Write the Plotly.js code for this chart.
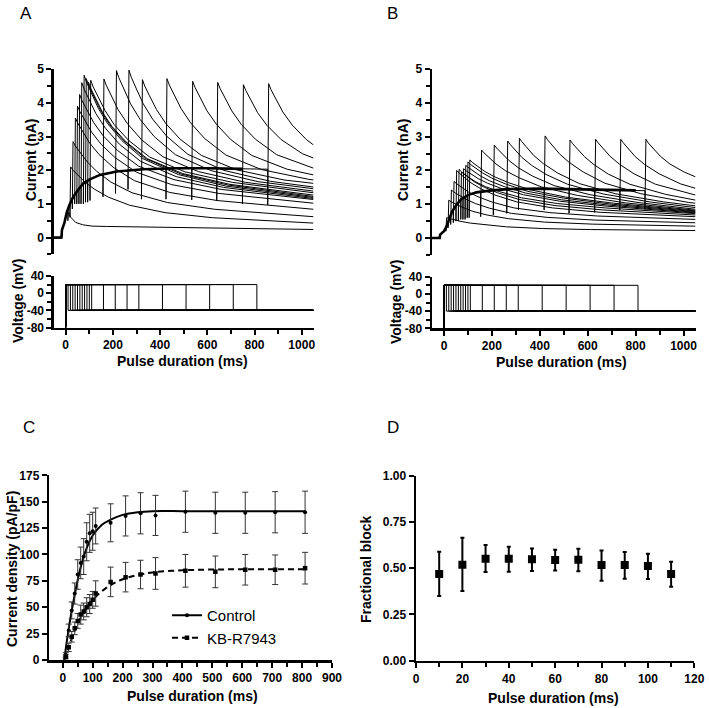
<!DOCTYPE html>
<html><head><meta charset="utf-8">
<script src="https://cdn.plot.ly/plotly-3.0.1.min.js"></script>
<style>html,body{margin:0;padding:0;background:#fff}#chart{width:709px;height:708px}</style>
</head><body><div id="chart"></div>
<script>
// ---------- Panels A & B : protocol ----------
const pulseDurations = [10,20,30,40,50,60,70,80,90,100,110,160,210,260,310,410,510,610,710,810];
const holdingPotential = -80, testPotential = 20, tailPotential = -40;
const recordEnd = 1050;
const voltTickVals = [-80,-40,0,40];
const voltTickText = ['-80','-40','0','40'];

// offsets (ms after tail peak) at which tail currents were read
const tailDT = [0,10,30,60,100,160,250,400,600];

// ---------- Panel A (control) currents, nA ----------
const envA_t = [-50,-18,-16,-5,4,15,32,50,75,100,145,216,329,470,600,750,860];
const envA_I = [0,0,0.22,0.45,0.73,0.95,1.21,1.40,1.61,1.72,1.86,1.96,2.03,2.06,2.06,2.04,2.03];
const A_endT   = [9,18,28,38,47,56,65,75,84,93,103,158,211,264,321,425,534,640,749,856];
const A_pre    = [0.85,1.0,1.15,1.27,1.37,1.46,1.53,1.61,1.65,1.69,1.73,1.88,1.95,1.99,2.03,2.05,2.06,2.06,2.04,2.03];
const A_notch  = [0.5,0.6,0.85,1.0,1.0,1.0,1.0,1.0,1.05,1.05,1.1,1.21,1.31,1.43,1.14,1.14,1.12,1.1,1.0,0.97];
const A_peakT  = [12,21,31,41,50,59,68,78,87,96,106,162,215,268,325,429,538,644,753,860];
const A_tail = [
  [0.75,0.6,0.45,0.38,0.34,0.33,0.32,0.3,0.28],
  [2.1,2.0,1.86,1.65,1.44,1.2,0.96,0.74,0.59],
  [2.85,2.72,2.52,2.25,1.97,1.65,1.33,1.04,0.84],
  [3.55,3.40,3.15,2.81,2.47,2.09,1.69,1.34,1.10],
  [3.9,3.74,3.48,3.13,2.77,2.37,1.94,1.57,1.31],
  [4.25,4.07,3.80,3.41,3.02,2.59,2.12,1.72,1.43],
  [4.6,4.41,4.10,3.68,3.25,2.77,2.26,1.81,1.49],
  [4.82,4.62,4.29,3.84,3.38,2.88,2.34,1.87,1.53],
  [4.72,4.53,4.22,3.79,3.35,2.87,2.35,1.89,1.56],
  [4.62,4.43,4.14,3.72,3.30,2.84,2.34,1.90,1.58],
  [4.67,4.48,4.19,3.78,3.35,2.89,2.39,1.95,1.64],
  [4.71,4.52,4.22,3.80,3.38,2.90,2.40,1.96,1.64],
  [4.96,4.75,4.42,3.97,3.51,3.00,2.46,1.99,1.66],
  [4.97,4.76,4.44,3.98,3.52,3.01,2.47,2.00,1.67],
  [4.69,4.50,4.21,3.80,3.38,2.92,2.44,2.01,1.71],
  [4.72,4.53,4.24,3.83,3.41,2.94,2.45,2.02,1.73],
  [4.64,4.46,4.17,3.77,3.37,2.92,2.44,2.03],
  [4.61,4.43,4.15,3.76,3.36,2.92,2.46,2.07],
  [4.54,4.37,4.09,3.71,3.33,2.91,2.49],
  [4.57,4.39,4.11,3.73,3.34,2.91]
];
const A_end = [0.24,0.43,0.62,0.84,1.02,1.13,1.16,1.19,1.22,1.26,1.33,1.38,1.45,1.5,1.61,1.71,1.86,2.06,2.36,2.75];

// ---------- Panel B (KB-R7943) currents, nA ----------
const envB_t = [-50,-18,-16,0,10,20,34,53,72,100,135,200,280,400,600,800,850];
const envB_I = [0,0,0.1,0.2,0.33,0.52,0.78,0.99,1.15,1.27,1.35,1.41,1.45,1.46,1.44,1.41,1.4];
const B_endT  = [8,17,28,39,50,60,70,79,88,97,105,153,206,262,311,418,522,629,734,839];
const B_pre   = [0.3,0.46,0.7,0.86,0.96,1.05,1.13,1.18,1.22,1.26,1.28,1.37,1.41,1.44,1.45,1.46,1.45,1.44,1.42,1.4];
const B_notch = [0.2,0.3,0.4,0.45,0.5,0.5,0.55,0.55,0.55,0.6,0.6,0.63,0.68,0.73,0.83,0.83,0.73,0.76,0.83,0.85];
const B_peakT = [11,20,31,42,53,63,73,82,91,100,108,157,210,266,315,422,526,633,738,843];
const B_tail = [
  [0.6,0.58,0.54,0.49,0.44,0.39,0.33,0.28,0.25],
  [1.12,1.07,1.0,0.90,0.79,0.68,0.57,0.47,0.41],
  [1.42,1.36,1.27,1.15,1.02,0.88,0.73,0.61,0.53],
  [1.67,1.61,1.50,1.36,1.22,1.06,0.89,0.75,0.65],
  [2.0,1.92,1.80,1.63,1.46,1.27,1.07,0.89,0.76],
  [2.03,1.96,1.84,1.68,1.52,1.34,1.14,0.96,0.83],
  [1.95,1.89,1.80,1.66,1.52,1.37,1.19,1.02,0.89],
  [2.05,1.99,1.89,1.76,1.62,1.46,1.28,1.09,0.94],
  [2.15,2.09,1.99,1.84,1.69,1.52,1.33,1.13,0.97],
  [2.25,2.18,2.08,1.93,1.77,1.59,1.38,1.18,1.0],
  [2.31,2.24,2.13,1.98,1.82,1.64,1.43,1.21,1.03],
  [2.6,2.52,2.38,2.19,1.99,1.77,1.51,1.26,1.04],
  [2.75,2.66,2.51,2.30,2.08,1.83,1.55,1.28,1.05],
  [2.87,2.77,2.61,2.38,2.15,1.88,1.59,1.30,1.06],
  [2.95,2.85,2.68,2.44,2.20,1.92,1.61,1.31,1.07],
  [3.02,2.91,2.74,2.49,2.24,1.95,1.62,1.31,1.05],
  [2.9,2.80,2.64,2.41,2.17,1.89,1.59,1.29],
  [2.92,2.82,2.65,2.42,2.18,1.90,1.59,1.29],
  [2.92,2.82,2.65,2.41,2.17,1.90,1.60],
  [2.92,2.81,2.65,2.42,2.19,1.95]
];
const B_end = [0.22,0.35,0.45,0.55,0.63,0.68,0.72,0.74,0.76,0.78,0.8,0.82,0.85,0.9,0.95,1.03,1.12,1.27,1.47,1.81];

// ---------- Panel C ----------
const pulseC  = [10,20,30,40,50,60,70,80,90,100,110,160,210,260,310,410,510,610,710,810];
const ctrlMean = [5,28,47,63,81,92,98,112,120,122,127,130,136.5,139,137,140.5,139.5,139.5,140,140];
const ctrlSEM  = [2,6,8,10,14,15,17,18,18,18,17,18,19,19.5,19,19.5,19.5,19.5,19.5,20];
const kbMean   = [3,12,22,30,37,43,46,50,53,57,63,74,78.5,81,82,84.5,83.5,85.5,85.5,87];
const kbSEM    = [2,4,5,6,7,9,8,9,9,8,12,14,14,13.5,15,15.5,15,14.5,14,15];
const fitT     = [5,20,40,60,80,100,130,160,200,250,300,400,500,600,700,810];
const ctrlFit  = [0,30,62,88,106,118,128,133,137.5,140,141,141,141,141,141,141];
const kbFit    = [0,12,28,40,50,57,65,71,76.5,80.5,83,85,85.7,86,86,86];

// ---------- Panel D ----------
const pulseD     = [10,20,30,40,50,60,70,80,90,100,110];
const blockMean  = [0.468,0.519,0.551,0.551,0.548,0.544,0.546,0.517,0.517,0.512,0.468];
const blockUpper = [0.589,0.665,0.625,0.616,0.607,0.600,0.605,0.596,0.587,0.578,0.535];
const blockLower = [0.350,0.377,0.479,0.481,0.485,0.488,0.483,0.432,0.443,0.441,0.400];

// ---------- build traces ----------
function currentSweep(envT, envI, endT, pre, notch, peakT, tail, end) {
  const x = [], y = [];
  for (let j = 0; j < envT.length; j++) if (envT[j] < endT) { x.push(envT[j]); y.push(envI[j]); }
  x.push(endT, endT); y.push(pre, notch);
  for (let k = 0; k < tail.length; k++) {
    const t = peakT + tailDT[k];
    if (t < recordEnd) { x.push(t); y.push(tail[k]); }
  }
  x.push(recordEnd); y.push(end);
  return {x, y};
}
const traces = [];
const thin = {color: '#000', width: 1};
function addPanel(envT, envI, endT, pre, notch, peakT, tails, ends, xa, yaCur, yaVolt) {
  pulseDurations.forEach((d, i) => {
    const s = currentSweep(envT, envI, endT[i], pre[i], notch[i], peakT[i], tails[i], ends[i]);
    traces.push({type: 'scatter', mode: 'lines', x: s.x, y: s.y, xaxis: xa, yaxis: yaCur,
      line: thin, showlegend: false, hoverinfo: 'skip'});
  });
  const lastEnd = Math.max(...endT);
  const ex = [], ey = [];
  envT.forEach((t, j) => { if (t <= lastEnd) { ex.push(t); ey.push(envI[j]); } });
  traces.push({type: 'scatter', mode: 'lines', x: ex, y: ey, xaxis: xa, yaxis: yaCur,
    line: {color: '#000', width: 2.6}, showlegend: false, hoverinfo: 'skip'});
  pulseDurations.forEach(d => {
    traces.push({type: 'scatter', mode: 'lines', x: [0, 0, d, d, recordEnd],
      y: [holdingPotential, testPotential, testPotential, tailPotential, tailPotential],
      xaxis: xa, yaxis: yaVolt, line: {color: '#000', width: 1}, showlegend: false, hoverinfo: 'skip'});
  });
}
addPanel(envA_t, envA_I, A_endT, A_pre, A_notch, A_peakT, A_tail, A_end, 'x', 'y', 'y2');
addPanel(envB_t, envB_I, B_endT, B_pre, B_notch, B_peakT, B_tail, B_end, 'x2', 'y3', 'y4');

// Panel C: fits
traces.push({type: 'scatter', mode: 'lines', x: fitT, y: ctrlFit, xaxis: 'x3', yaxis: 'y5',
  line: {color: '#000', width: 2, shape: 'spline'}, showlegend: false, hoverinfo: 'skip'});
traces.push({type: 'scatter', mode: 'lines', x: fitT, y: kbFit, xaxis: 'x3', yaxis: 'y5',
  line: {color: '#000', width: 2, dash: '6px,4px', shape: 'spline'}, showlegend: false, hoverinfo: 'skip'});
// Panel C: data points (separated so that only the legend shows a line sample)
function sep(arr) { const o = []; arr.forEach(v => o.push(v, null)); return o; }
traces.push({type: 'scatter', mode: 'lines+markers', name: 'Control', x: sep(pulseC), y: sep(ctrlMean),
  xaxis: 'x3', yaxis: 'y5', connectgaps: false,
  line: {color: '#000', width: 2}, marker: {symbol: 'circle', size: 4, color: '#000'},
  error_y: {type: 'data', array: sep(ctrlSEM), color: '#333', thickness: 1, width: 3}});
traces.push({type: 'scatter', mode: 'lines+markers', name: 'KB-R7943', x: sep(pulseC), y: sep(kbMean),
  xaxis: 'x3', yaxis: 'y5', connectgaps: false,
  line: {color: '#000', width: 2, dash: '6px,4px'}, marker: {symbol: 'square', size: 4.5, color: '#000'},
  error_y: {type: 'data', array: sep(kbSEM), color: '#333', thickness: 1, width: 3}});
// Panel D
traces.push({type: 'scatter', mode: 'markers', x: pulseD, y: blockMean, xaxis: 'x4', yaxis: 'y6',
  marker: {symbol: 'square', size: 8, color: '#000'}, showlegend: false,
  error_y: {type: 'data', symmetric: false,
    array: blockUpper.map((u, i) => u - blockMean[i]),
    arrayminus: blockLower.map((l, i) => blockMean[i] - l),
    color: '#000', thickness: 2, width: 2}});

// ---------- layout ----------
const W = 709, H = 708;
const fx = p => p / W, fy = p => 1 - p / H;
const tickFont = {family: 'Liberation Sans, Arial, sans-serif', size: 12, color: '#000', weight: 'bold'};
function axis(extra) {
  return Object.assign({showline: true, linewidth: 2.5, linecolor: '#000', ticks: 'outside', ticklen: 5,
    tickwidth: 2, tickcolor: '#000', showgrid: false, zeroline: false, tickfont: tickFont,
    fixedrange: true}, extra);
}
const minorT = (dt) => ({dtick: dt, ticks: 'outside', ticklen: 4, tickwidth: 2, tickcolor: '#000', showgrid: false});
const titleFont = {family: 'Liberation Sans, Arial, sans-serif', size: 14, color: '#000', weight: 'bold'};
const letterFont = {family: 'Liberation Sans, Arial, sans-serif', size: 17, color: '#000'};
function ann(text, px, py, rot, font) {
  return {text, x: fx(px), y: fy(py), xref: 'paper', yref: 'paper', showarrow: false,
    xanchor: 'center', yanchor: 'middle', textangle: rot || 0, font: font || titleFont};
}
const layout = {
  width: W, height: H, margin: {l: 0, r: 0, t: 0, b: 0}, paper_bgcolor: '#fff', plot_bgcolor: 'rgba(0,0,0,0)',
  font: {family: 'Liberation Sans, Arial, sans-serif', color: '#000'},
  showlegend: true,
  legend: {x: fx(167), y: fy(599), xanchor: 'left', yanchor: 'top', bgcolor: 'rgba(0,0,0,0)',
    font: {family: 'Liberation Sans, Arial, sans-serif', size: 15, color: '#000'}, itemwidth: 30,
    tracegroupgap: 0},
  // Panel A
  xaxis: axis({domain: [fx(53.9), fx(313.5)], range: [-50, 1050], anchor: 'y2', tick0: 0, dtick: 200,
    minor: minorT(100)}),
  yaxis: axis({domain: [fy(254.4), fy(69.2)], range: [-0.5, 5], anchor: 'x', tick0: 0, dtick: 1,
    minor: minorT(0.5)}),
  yaxis2: axis({domain: [fy(327.5), fy(276)], range: [-80, 40], anchor: 'x', tickmode: 'array',
    tickvals: voltTickVals, ticktext: voltTickText, minor: Object.assign(minorT(20), {tick0: 0})}),
  // Panel B
  xaxis2: axis({domain: [fx(432), fx(695.5)], range: [-50, 1050], anchor: 'y4', tick0: 0, dtick: 200,
    minor: minorT(100)}),
  yaxis3: axis({domain: [fy(254.9), fy(69)], range: [-0.5, 5], anchor: 'x2', tick0: 0, dtick: 1,
    minor: minorT(0.5)}),
  yaxis4: axis({domain: [fy(328.3), fy(276.7)], range: [-80, 40], anchor: 'x2', tickmode: 'array',
    tickvals: voltTickVals, ticktext: voltTickText, minor: Object.assign(minorT(20), {tick0: 0})}),
  // Panel C
  xaxis3: axis({domain: [fx(49.3), fx(332)], range: [-45, 900], anchor: 'y5', tick0: 0, dtick: 100,
    minor: minorT(50)}),
  yaxis5: axis({domain: [fy(660), fy(475.3)], range: [0, 175], anchor: 'x3', tick0: 0, dtick: 25}),
  // Panel D
  xaxis4: axis({domain: [fx(416), fx(694.3)], range: [0, 120], anchor: 'y6', tick0: 0, dtick: 20,
    minor: minorT(10)}),
  yaxis6: axis({domain: [fy(660.7), fy(475.7)], range: [0, 1], anchor: 'x4', tick0: 0, dtick: 0.25,
    tickformat: '.2f'}),
  annotations: [
    ann('A', 26, 14, 0, letterFont), ann('B', 392, 14, 0, letterFont),
    ann('C', 29, 427, 0, letterFont), ann('D', 393, 427, 0, letterFont),
    ann('Current (nA)', 31, 160, -90), ann('Voltage (mV)', 18, 301, -90),
    ann('Pulse duration (ms)', 182, 361),
    ann('Current (nA)', 403, 160, -90), ann('Voltage (mV)', 396, 302, -90),
    ann('Pulse duration (ms)', 561, 362),
    ann('Current density (pA/pF)', 12, 569, -90), ann('Pulse duration (ms)', 192, 696),
    ann('Fractional block', 366, 569, -90), ann('Pulse duration (ms)', 553, 698)
  ]
};
Plotly.newPlot('chart', traces, layout, {staticPlot: true, displayModeBar: false});
</script>
</body></html>
